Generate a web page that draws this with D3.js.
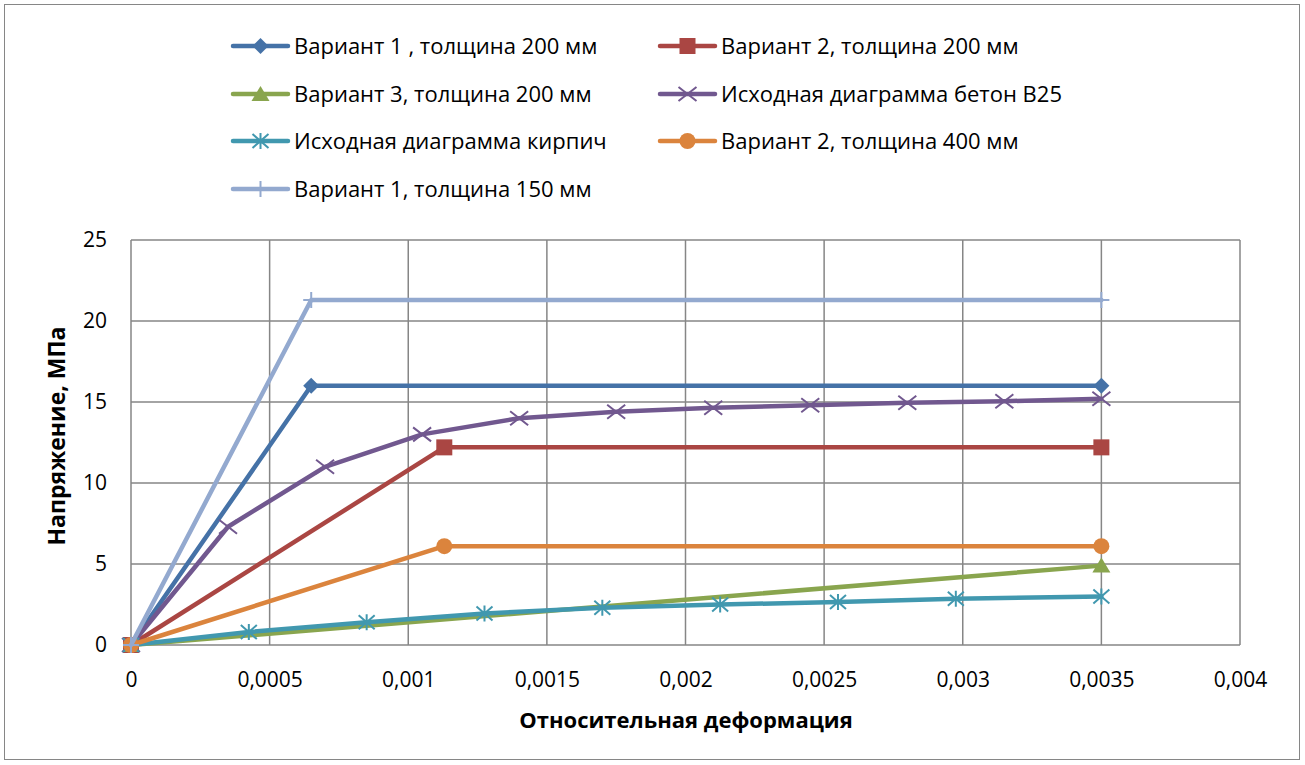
<!DOCTYPE html>
<html><head><meta charset="utf-8">
<script src="https://cdn.jsdelivr.net/npm/d3@7"></script>
<style>body{margin:0;background:#fff;} svg{display:block;font-family:"Open Sans","Liberation Sans",sans-serif;}</style>
</head><body>
<svg id="c" width="1305" height="765"></svg>
<script>
const xTicks = [0,0.0005,0.001,0.0015,0.002,0.0025,0.003,0.0035,0.004];
const xTickLabels = ["0","0,0005","0,001","0,0015","0,002","0,0025","0,003","0,0035","0,004"];
const yTicks = [0,5,10,15,20,25];
const yTickLabels = ["0","5","10","15","20","25"];

const seriesNames = ["Вариант 1 , толщина 200 мм","Вариант 2, толщина 200 мм","Вариант 3, толщина 200 мм","Исходная диаграмма бетон В25","Исходная диаграмма кирпич","Вариант 2, толщина 400 мм","Вариант 1, толщина 150 мм"];
const seriesColors = ["#4572A7","#AA4643","#89A54E","#71588F","#4198AF","#DB843D","#93A9CF"];
const seriesMarkers = ["diamond","square","triangle","x","asterisk","circle","plus"];

const v1_200_x = [0, 0.00065, 0.0035];
const v1_200_y = [0, 16.0, 16.0];
const v2_200_x = [0, 0.00113, 0.0035];
const v2_200_y = [0, 12.2, 12.2];
const v3_200_x = [0, 0.0035];
const v3_200_y = [0, 4.9];
const b25_x = [0,0.00035,0.0007,0.00105,0.0014,0.00175,0.0021,0.00245,0.0028,0.00315,0.0035];
const b25_y = [0,7.3,11.0,13.0,14.0,14.4,14.65,14.8,14.95,15.05,15.2];
const brick_x = [0,0.000425,0.00085,0.001275,0.0017,0.002125,0.00255,0.002975,0.0035];
const brick_y = [0,0.8,1.4,1.95,2.3,2.5,2.65,2.85,3.0];
const v2_400_x = [0, 0.00113, 0.0035];
const v2_400_y = [0, 6.1, 6.1];
const v1_150_x = [0, 0.00065, 0.0035];
const v1_150_y = [0, 21.3, 21.3];

const seriesX = [v1_200_x,v2_200_x,v3_200_x,b25_x,brick_x,v2_400_x,v1_150_x];
const seriesY = [v1_200_y,v2_200_y,v3_200_y,b25_y,brick_y,v2_400_y,v1_150_y];

const svg = d3.select("#c");
svg.append("rect").attr("x",4.5).attr("y",4.5).attr("width",1295).attr("height",755)
  .attr("fill","#fff").attr("stroke","#868686").attr("stroke-width",1);

const L=131, R=1240, T=240, B=645;
const x = d3.scaleLinear().domain([0,0.004]).range([L,R]);
const y = d3.scaleLinear().domain([0,25]).range([B,T]);

const grid = svg.append("g");
grid.selectAll(".vg").data(xTicks).enter().append("line")
  .attr("x1",d=>x(d)).attr("x2",d=>x(d)).attr("y1",T).attr("y2",B)
  .attr("stroke","#868686").attr("stroke-width",1.5);
grid.selectAll(".hg").data(yTicks).enter().append("line")
  .attr("y1",d=>y(d)).attr("y2",d=>y(d)).attr("x1",L).attr("x2",R)
  .attr("stroke","#868686").attr("stroke-width",1.5);

const xAxis = d3.axisBottom(x).tickValues(xTicks).tickFormat((d,i)=>xTickLabels[i]).tickSize(0).tickPadding(27);
const gx = svg.append("g").attr("transform",`translate(0,${B})`).call(xAxis);
gx.select(".domain").remove();
gx.selectAll("text").attr("font-size",21).attr("fill","#000").attr("font-family","'Open Sans',sans-serif");

const yAxis = d3.axisLeft(y).tickValues(yTicks).tickFormat((d,i)=>yTickLabels[i]).tickSize(0).tickPadding(24);
const gy = svg.append("g").attr("transform",`translate(${L},0)`).call(yAxis);
gy.select(".domain").remove();
gy.selectAll("text").attr("font-size",21).attr("fill","#000").attr("font-family","'Open Sans',sans-serif");

svg.append("text").attr("x",686).attr("y",728).attr("text-anchor","middle")
  .attr("font-size",22).attr("font-weight","bold").text("Относительная деформация");
svg.append("text").attr("transform",`translate(65,${436}) rotate(-90)`).attr("text-anchor","middle")
  .attr("font-size",23).attr("font-weight","bold").text("Напряжение, МПа");

function drawMarker(g, type, cx, cy, color, s){
  s = s||7;
  if(type==="diamond"){
    g.append("path").attr("d",`M${cx},${cy-s-1}L${cx+s+1},${cy}L${cx},${cy+s+1}L${cx-s-1},${cy}Z`).attr("fill",color);
  } else if(type==="square"){
    g.append("rect").attr("x",cx-s-1).attr("y",cy-s-1).attr("width",2*s+2).attr("height",2*s+2).attr("fill",color);
  } else if(type==="triangle"){
    g.append("path").attr("d",`M${cx},${cy-s-1}L${cx+s+2},${cy+s}L${cx-s-2},${cy+s}Z`).attr("fill",color);
  } else if(type==="circle"){
    g.append("circle").attr("cx",cx).attr("cy",cy).attr("r",s+1).attr("fill",color);
  } else if(type==="x"){
    g.append("path").attr("d",`M${cx-s-2},${cy-s}L${cx+s+2},${cy+s}M${cx-s-2},${cy+s}L${cx+s+2},${cy-s}`).attr("stroke",color).attr("stroke-width",2);
  } else if(type==="asterisk"){
    g.append("path").attr("d",`M${cx-s-1},${cy-s}L${cx+s+1},${cy+s}M${cx-s-1},${cy+s}L${cx+s+1},${cy-s}M${cx},${cy-s-1}L${cx},${cy+s+1}`).attr("stroke",color).attr("stroke-width",2);
  } else if(type==="plus"){
    g.append("path").attr("d",`M${cx-s-1},${cy}L${cx+s+1},${cy}M${cx},${cy-s-1}L${cx},${cy+s+1}`).attr("stroke",color).attr("stroke-width",2);
  }
}

const line = d3.line().x(d=>x(d[0])).y(d=>y(d[1]));
seriesNames.forEach((name,i)=>{
  const pts = seriesX[i].map((xv,j)=>[xv,seriesY[i][j]]);
  const g = svg.append("g");
  g.append("path").datum(pts).attr("d",line).attr("fill","none")
    .attr("stroke",seriesColors[i]).attr("stroke-width",4.5).attr("stroke-linejoin","round").attr("stroke-linecap","round");
  pts.forEach(p=>drawMarker(g, seriesMarkers[i], x(p[0]), y(p[1]), seriesColors[i]));
});

const legCols = [233, 660];
const legRows = [46, 94, 141, 189];
seriesNames.forEach((name,i)=>{
  const col = i%2, row = Math.floor(i/2);
  const lx = legCols[col], ly = legRows[row];
  const g = svg.append("g");
  g.append("line").attr("x1",lx).attr("x2",lx+55).attr("y1",ly).attr("y2",ly)
    .attr("stroke",seriesColors[i]).attr("stroke-width",4.5).attr("stroke-linecap","round");
  drawMarker(g, seriesMarkers[i], lx+27.5, ly, seriesColors[i]);
  g.append("text").attr("x",lx+61).attr("y",ly+8).attr("font-size",22).attr("fill","#000").text(name);
});
</script>
</body></html>
